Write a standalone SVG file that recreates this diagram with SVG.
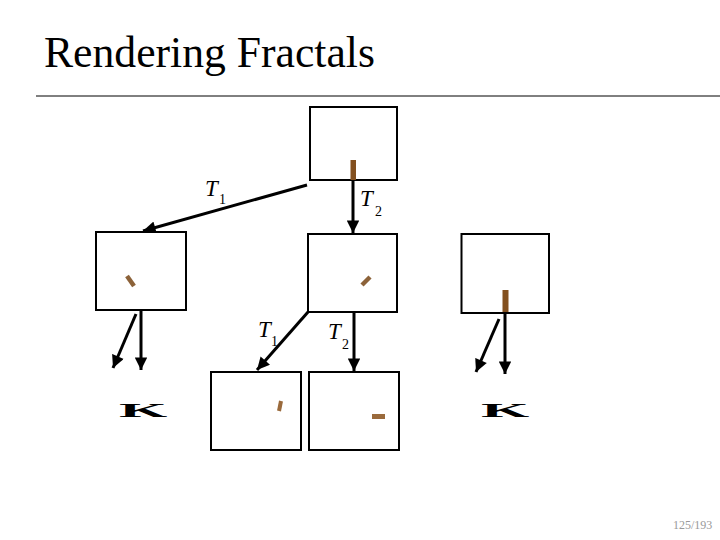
<svg xmlns="http://www.w3.org/2000/svg" width="720" height="540" viewBox="0 0 720 540">
<defs>
<marker id="ah" viewBox="0 0 10 10" refX="10" refY="5" markerWidth="4.5" markerHeight="4.2" orient="auto" markerUnits="strokeWidth">
<path d="M0,0 L10,5 L0,10 Z" fill="#000"/>
</marker>
<style>
.box{fill:#fff;stroke:#000;stroke-width:2}
.con{stroke:#000;stroke-width:3;fill:none;marker-end:url(#ah)}
.lbl{font-family:"Liberation Serif",serif;font-style:italic;font-size:23px;fill:#000}
.sub{font-family:"Liberation Serif",serif;font-size:14px;fill:#000}
.k{font-family:"Liberation Serif",serif;font-weight:bold;font-size:20px;fill:#000}
.bar{fill:#83501f}
.bar2{fill:#9a6a3c}
</style>
</defs>
<rect width="720" height="540" fill="#fff"/>
<text x="44" y="67" font-family="Liberation Serif, serif" font-size="44" textLength="331" lengthAdjust="spacingAndGlyphs">Rendering Fractals</text>
<line x1="36" y1="96" x2="720" y2="96" stroke="#000" stroke-width="1"/>

<g id="connectors">
<line class="con" x1="307" y1="185" x2="143" y2="231"/>
<line class="con" x1="353" y1="181" x2="353" y2="233"/>
<line class="con" x1="141" y1="310" x2="141" y2="370"/>
<line class="con" x1="136" y1="314" x2="113" y2="368"/>
<line class="con" x1="308" y1="312" x2="257" y2="370"/>
<line class="con" x1="354" y1="312" x2="354" y2="371"/>
<line class="con" x1="505" y1="313" x2="505" y2="374"/>
<line class="con" x1="499" y1="319" x2="476" y2="372"/>
</g>

<g id="node-top">
<rect class="box" x="310" y="107" width="87" height="73"/>
<rect class="bar" x="350.5" y="160" width="5.5" height="20"/>
</g>
<g id="node-left">
<rect class="box" x="96" y="232" width="90" height="78"/>
<line x1="127" y1="276" x2="134" y2="286" stroke="#8c6239" stroke-width="4.5"/>
</g>
<g id="node-mid">
<rect class="box" x="308" y="234" width="89" height="78"/>
<line x1="362" y1="285" x2="370" y2="277" stroke="#8c6239" stroke-width="4.5"/>
</g>
<g id="node-right">
<rect class="box" x="461.5" y="234" width="87.5" height="79"/>
<rect class="bar" x="502.5" y="290" width="6" height="22"/>
</g>
<g id="node-bl">
<rect class="box" x="211" y="372" width="90" height="78"/>
<line x1="281" y1="401" x2="279" y2="411" stroke="#9a6a3c" stroke-width="4"/>
</g>
<g id="node-br">
<rect class="box" x="309" y="372" width="90" height="78"/>
<rect class="bar2" x="372" y="414" width="13" height="5"/>
</g>

<g id="labels">
<text class="lbl" x="205" y="196">T</text><text class="sub" x="219" y="204">1</text>
<text class="lbl" x="360" y="206">T</text><text class="sub" x="375" y="216">2</text>
<text class="lbl" x="258" y="337">T</text><text class="sub" x="271" y="346">1</text>
<text class="lbl" x="328" y="339">T</text><text class="sub" x="342" y="349">2</text>
</g>

<g id="ellipses">
<text class="k" transform="translate(119,417) scale(3.1,0.95)">K</text>
<text class="k" transform="translate(481,417) scale(3.1,0.95)">K</text>
</g>

<text x="673" y="529" font-family="Liberation Serif, serif" font-size="12" fill="#999">125/193</text>
</svg>
